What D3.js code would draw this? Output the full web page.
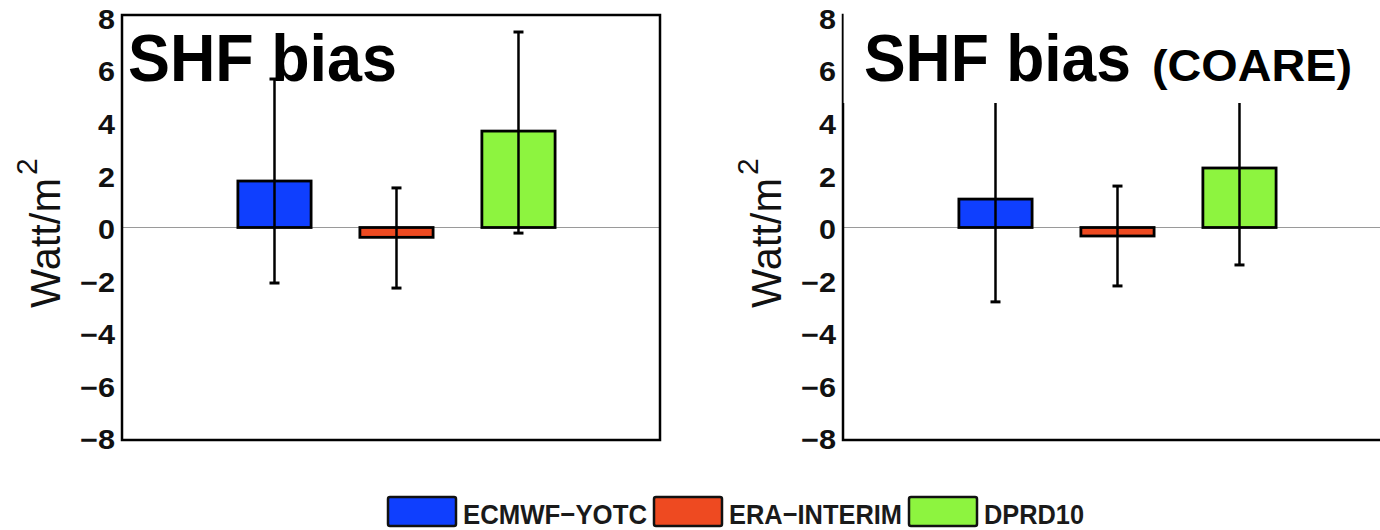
<!DOCTYPE html>
<html>
<head>
<meta charset="utf-8">
<script src="https://cdn.jsdelivr.net/npm/d3@7"></script>
<style>
  body { margin: 0; background: #fff; }
  svg { display: block; }
  text { font-family: "Liberation Sans", Arial, Helvetica, sans-serif; }
</style>
</head>
<body>
<svg id="chart" width="1380" height="530"></svg>
<script>
// Sensible heat flux bias per product (W/m^2), with error-bar end points
const categories = ["ECMWF-YOTC", "ERA-INTERIM", "DPRD10"];
const colors = ["#0f3ffe", "#ee4a21", "#8df43f"];

const biasBulk = [1.75, -0.37, 3.63];
const lowBulk  = [-2.09, -2.28, -0.21];
const highBulk = [5.59, 1.49, 7.36];

const biasCoare = [1.07, -0.32, 2.24];
const lowCoare  = [-2.80, -2.20, -1.41];
const highCoare = [5.0, 1.56, 5.9];

const yTicks = [-8, -6, -4, -2, 0, 2, 4, 6, 8];

const svg = d3.select("#chart");
const plotTop = 15, plotBottom = 440, plotW = 538;

const y = d3.scaleLinear().domain([-8, 8]).range([plotBottom, plotTop]);
const x = d3.scaleLinear().domain([-0.25, 4.16]).range([0, plotW]);
const barW = 0.6;

const panels = [
  { left: 122, frameW: 538, bias: biasBulk, low: lowBulk, high: highBulk,
    title: "SHF bias", titleX: 128, titleLen: 269, cover: false },
  { left: 843, frameW: 560, bias: biasCoare, low: lowCoare, high: highCoare,
    title: "SHF bias", titleX: 864, titleLen: 267, sub: "(COARE)", subX: 1152, subLen: 200, cover: true }
];

panels.forEach(p => {
  const g = svg.append("g").attr("transform", `translate(${p.left},0)`);

  // zero reference line
  g.append("line")
    .attr("x1", 0).attr("x2", p.frameW)
    .attr("y1", y(0)).attr("y2", y(0))
    .attr("stroke", "#9a9a9a").attr("stroke-width", 1.2);

  const idx = d3.range(categories.length);

  // bars
  g.selectAll("rect.bar").data(idx).join("rect")
    .attr("class", "bar")
    .attr("x", i => x(i + 1 - barW / 2))
    .attr("width", x(barW) - x(0))
    .attr("y", i => y(Math.max(0, p.bias[i])))
    .attr("height", i => Math.abs(y(p.bias[i]) - y(0)))
    .attr("fill", i => colors[i])
    .attr("stroke", "#000").attr("stroke-width", 2.8);

  // error bars
  const capW = 5;
  const eg = g.selectAll("g.err").data(idx).join("g").attr("class", "err");
  eg.append("line")
    .attr("x1", i => x(i + 1)).attr("x2", i => x(i + 1))
    .attr("y1", i => y(p.low[i])).attr("y2", i => y(p.high[i]))
    .attr("stroke", "#000").attr("stroke-width", 2.5);
  ["low", "high"].forEach(k => {
    eg.append("line")
      .attr("x1", i => x(i + 1) - capW).attr("x2", i => x(i + 1) + capW)
      .attr("y1", i => y(p[k][i])).attr("y2", i => y(p[k][i]))
      .attr("stroke", "#000").attr("stroke-width", 3);
  });

  // frame
  g.append("rect")
    .attr("x", 0).attr("y", plotTop)
    .attr("width", p.frameW).attr("height", plotBottom - plotTop)
    .attr("fill", "none").attr("stroke", "#000").attr("stroke-width", 2.5);

  // y axis labels
  const axis = d3.axisLeft(y).tickValues(yTicks).tickSize(0).tickPadding(7);
  const ax = g.append("g").call(axis);
  ax.select(".domain").remove();
  ax.selectAll("text")
    .attr("font-family", "'Liberation Sans', Arial, sans-serif")
    .attr("font-size", 27).attr("font-weight", "bold").attr("fill", "#111")
    .attr("y", d => (d + 8) * 0.3)
    .attr("textLength", d => d < 0 ? 35 : 17)
    .attr("lengthAdjust", "spacingAndGlyphs");

  // y axis title
  const yl = svg.append("text")
    .attr("transform", `translate(${p.left - 62},308) rotate(-90)`)
    .attr("font-size", 43).attr("fill", "#111");
  yl.append("tspan").text("Watt/m").attr("textLength", 130).attr("lengthAdjust", "spacingAndGlyphs");
  yl.append("tspan").text("2").attr("font-size", 30).attr("dy", -23).attr("dx", 3);

  // title block
  if (p.cover) {
    svg.append("rect")
      .attr("x", p.left + 0.6).attr("y", 0)
      .attr("width", 1380 - p.left).attr("height", 103)
      .attr("fill", "#fff");
  }
  svg.append("text")
    .attr("x", p.titleX).attr("y", 81)
    .attr("font-size", 67).attr("font-weight", "bold").attr("fill", "#000")
    .attr("textLength", p.titleLen).attr("lengthAdjust", "spacingAndGlyphs")
    .text(p.title);
  if (p.sub) {
    svg.append("text")
      .attr("x", p.subX).attr("y", 81)
      .attr("font-size", 44).attr("font-weight", "bold").attr("fill", "#000")
      .attr("textLength", p.subLen).attr("lengthAdjust", "spacingAndGlyphs")
      .text(p.sub);
  }
});

// legend
const legendText = categories.map(c => c.replace("-", "\u2212"));
const legendLen = [184, 173, 100];
let lx = 388;
const leg = svg.append("g");
categories.forEach((c, i) => {
  leg.append("rect")
    .attr("x", lx).attr("y", 497).attr("width", 68).attr("height", 29)
    .attr("rx", 2)
    .attr("fill", colors[i]).attr("stroke", "#111").attr("stroke-width", 2.5);
  lx += 68 + 7;
  leg.append("text")
    .attr("x", lx).attr("y", 524)
    .attr("font-size", 28).attr("font-weight", "bold").attr("fill", "#1a1a1a")
    .attr("textLength", legendLen[i]).attr("lengthAdjust", "spacingAndGlyphs")
    .text(legendText[i]);
  lx += legendLen[i] + 7;
});
</script>
</body>
</html>
